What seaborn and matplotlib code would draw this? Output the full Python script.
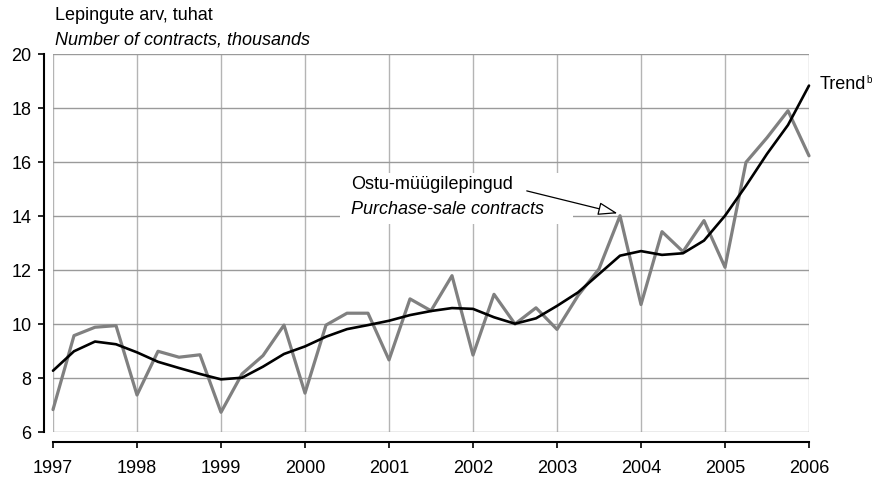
import numpy as np
import pandas as pd
import matplotlib
matplotlib.use("Agg")
import matplotlib.pyplot as plt
from matplotlib.patches import Rectangle
import seaborn as sns

# Quarterly purchase-sale contracts (thousands), 1997 Q1 .. 2006 Q1
contracts = [6.83, 9.57, 9.88, 9.94, 7.37, 8.99, 8.77, 8.86, 6.73, 8.15,
             8.83, 9.96, 7.44, 9.96, 10.40, 10.40, 8.67, 10.93, 10.49, 11.79,
             8.85, 11.10, 10.00, 10.60, 9.80, 11.05, 12.04, 14.01, 10.72, 13.42,
             12.68, 13.83, 12.10, 15.99, 16.90, 17.90, 16.23]
trend = [8.27, 8.99, 9.35, 9.25, 8.95, 8.60, 8.37, 8.15, 7.95, 8.01,
         8.42, 8.89, 9.17, 9.53, 9.81, 9.96, 10.12, 10.33, 10.48, 10.59,
         10.56, 10.25, 10.01, 10.21, 10.67, 11.17, 11.85, 12.53, 12.70, 12.56,
         12.62, 13.09, 14.01, 15.12, 16.30, 17.37, 18.83]
year_ticks = list(range(1997, 2007))
y_ticks = [6, 8, 10, 12, 14, 16, 18, 20]

quarter_pos = 1997 + np.arange(len(contracts)) / 4
df = pd.DataFrame({"t": quarter_pos, "contracts": contracts, "trend": trend})

sns.set_style("white")
plt.rcParams["font.family"] = ["Liberation Sans", "DejaVu Sans"]
plt.rcParams["text.color"] = "black"
plt.rcParams["xtick.color"] = "black"
plt.rcParams["ytick.color"] = "black"
plt.rcParams["xtick.labelcolor"] = "black"
plt.rcParams["ytick.labelcolor"] = "black"

W, H = 874, 481
fig = plt.figure(figsize=(W / 100, H / 100), dpi=100)
ax = fig.add_axes([53 / W, (H - 433) / H, (809 - 53) / W, (433 - 55) / H])

ax.set_axisbelow(True)
ax.xaxis.grid(True, color="#b4b4b4", lw=1.0, zorder=0.5)
ax.yaxis.grid(True, color="#9a9a9a", lw=1.0, zorder=0.5)

sns.lineplot(data=df, x="t", y="contracts", ax=ax, color="#808080", lw=2.3,
             zorder=3, clip_on=False)
sns.lineplot(data=df, x="t", y="trend", ax=ax, color="black", lw=1.9,
             zorder=4, clip_on=False)

ax.set_xlim(1997, 2006)
ax.set_ylim(6, 20)
ax.set_xticks(year_ticks)
ax.set_xticklabels([str(y) for y in year_ticks])
ax.set_yticks(y_ticks)
ax.set_xlabel("")
ax.set_ylabel("")

for s in ("top", "right"):
    ax.spines[s].set_visible(False)
ax.spines["left"].set_position(("outward", 6.5))
ax.spines["bottom"].set_position(("outward", 7.2))
for s in ("left", "bottom"):
    ax.spines[s].set_color("black")
    ax.spines[s].set_linewidth(1.5)
ax.tick_params(axis="both", which="major", direction="out", length=4,
               width=1.2, color="black", labelcolor="black", labelsize=13,
               pad=5, bottom=True, left=True)
ax.tick_params(axis="x", length=4.5, pad=7.5)

# white panel behind the series label
ax.add_patch(Rectangle((2000.42, 13.70), 2003.19 - 2000.42, 15.59 - 13.70,
                       facecolor="white", edgecolor="none", zorder=1))
ax.text(2000.55, 15.19, "Ostu-müügilepingud", fontsize=13, va="center",
        ha="left", zorder=5)
ax.text(2000.55, 14.26, "Purchase-sale contracts", fontsize=13, va="center",
        ha="left", style="italic", zorder=5)
ax.annotate("", xy=(2003.72, 14.10), xytext=(2002.64, 14.93),
            arrowprops=dict(arrowstyle="-|>,head_length=1.2,head_width=0.4",
                            facecolor="white", edgecolor="black", lw=0.9,
                            shrinkA=0, shrinkB=0), zorder=6)

fig.text(55 / W, 1 - 15 / H, "Lepingute arv, tuhat", fontsize=13,
         va="center", ha="left")
fig.text(55 / W, 1 - 40 / H, "Number of contracts, thousands", fontsize=13,
         va="center", ha="left", style="italic")
fig.text(820 / W, 1 - 85 / H, "Trend", fontsize=13, va="center", ha="left")
fig.text(866 / W, 1 - 80 / H, "b", fontsize=7, va="center", ha="left")

fig.savefig("out.png", dpi=100, facecolor="white")
